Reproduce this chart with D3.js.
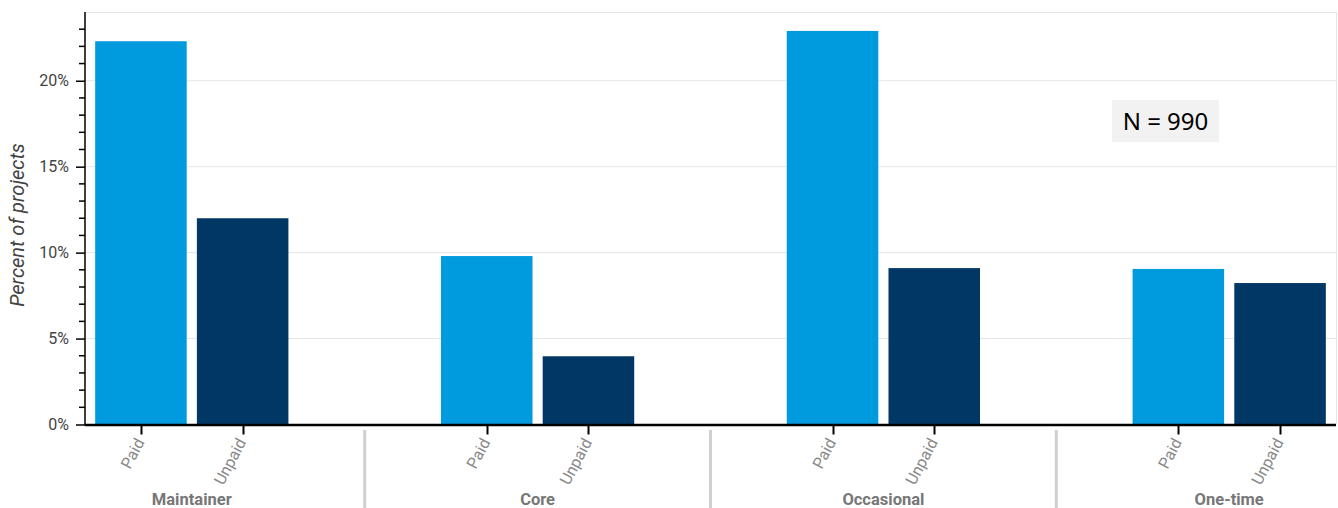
<!DOCTYPE html>
<html><head><meta charset="utf-8">
<script src="https://cdn.jsdelivr.net/npm/d3@7"></script>
<style>body{margin:0;background:#fff;} svg{display:block;}</style>
</head><body>
<svg id="c" width="1338" height="508"></svg>
<script>
const groups = ["Maintainer", "Core", "Occasional", "One-time"];
const subs = ["Paid", "Unpaid"];
const paidValues = [22.3, 9.8, 22.9, 9.05];
const unpaidValues = [12.0, 3.97, 9.1, 8.23];
const yTicks = [0, 5, 10, 15, 20];
const colors = {Paid: "#009ade", Unpaid: "#003764"};
const nLabel = "N = 990";

const svg = d3.select("#c");
const pLeft = 85, pRight = 1336, pTop = 12, pBottom = 424.5;

// nested categorical positions: units with group padding
const groupPad = 1.4, rangePad = 0.05;
const factors = [];
let u = rangePad;
groups.forEach((g, gi) => {
  if (gi > 0) u += groupPad;
  subs.forEach((s, si) => {
    const v = s === "Paid" ? paidValues[gi] : unpaidValues[gi];
    factors.push({g, s, gi, center: u + 0.5, value: v});
    u += 1;
  });
});
const total = u + rangePad;
const x = d3.scaleLinear().domain([0, total]).range([pLeft, pRight]);
const y = d3.scaleLinear().domain([0, 24]).range([pBottom, pTop]);

// grid
svg.append("g").selectAll("line").data(yTicks.filter(d => d > 0)).join("line")
  .attr("x1", pLeft).attr("x2", pRight).attr("y1", d => y(d)).attr("y2", d => y(d))
  .attr("stroke", "#e5e5e5").attr("stroke-width", 1);
svg.append("line").attr("x1", pLeft).attr("x2", pRight).attr("y1", pTop + 0.5).attr("y2", pTop + 0.5)
  .attr("stroke", "#e5e5e5");
svg.append("line").attr("x1", pRight + 0.5).attr("x2", pRight + 0.5).attr("y1", pTop).attr("y2", pBottom)
  .attr("stroke", "#e5e5e5");

// bars
const bw = 0.9;
svg.append("g").selectAll("rect").data(factors).join("rect")
  .attr("x", d => x(d.center - bw / 2)).attr("width", d => x(d.center + bw / 2) - x(d.center - bw / 2))
  .attr("y", d => y(d.value)).attr("height", d => y(0) - y(d.value))
  .attr("fill", d => colors[d.s]);

// y axis
const yAxis = d3.axisLeft(y).tickValues(yTicks).tickFormat(d => d + "%").tickSize(9).tickPadding(7);
const ya = svg.append("g").attr("transform", `translate(${pLeft},0)`).call(yAxis);
ya.select(".domain").remove();
ya.selectAll(".tick line").attr("stroke", "#000").attr("stroke-width", 1.5);
ya.selectAll("text").attr("font-family", "Roboto").attr("font-size", 16).attr("fill", "#444");
const minor = d3.range(0, 24, 1).filter(d => d % 5 !== 0);
svg.append("g").selectAll("line").data(minor).join("line")
  .attr("x1", pLeft - 6).attr("x2", pLeft).attr("y1", d => y(d)).attr("y2", d => y(d))
  .attr("stroke", "#000").attr("stroke-width", 1.5);
svg.append("line").attr("x1", pLeft).attr("x2", pLeft).attr("y1", pTop).attr("y2", pBottom + 1)
  .attr("stroke", "#000").attr("stroke-width", 1.5);

// x axis
svg.append("line").attr("x1", pLeft).attr("x2", pRight).attr("y1", pBottom + 0.5).attr("y2", pBottom + 0.5)
  .attr("stroke", "#000").attr("stroke-width", 2.5);
svg.append("g").selectAll("line").data(factors).join("line")
  .attr("x1", d => Math.round(x(d.center)) + 0.5).attr("x2", d => Math.round(x(d.center)) + 0.5)
  .attr("y1", pBottom).attr("y2", pBottom + 10)
  .attr("stroke", "#000").attr("stroke-width", 2);
svg.append("g").selectAll("text").data(factors).join("text")
  .attr("transform", d => `translate(${x(d.center) - 1},${pBottom + 15}) rotate(-62)`)
  .attr("text-anchor", "end").attr("dy", "0.35em")
  .attr("font-family", "Roboto").attr("font-size", 16).attr("fill", "#888")
  .text(d => d.s);

// group labels and separators
const gCenters = groups.map((g, gi) => {
  const fs = factors.filter(f => f.gi === gi);
  return {g, c: (fs[0].center + fs[fs.length - 1].center) / 2, first: fs[0].center, last: fs[fs.length - 1].center};
});
svg.append("g").selectAll("text").data(gCenters).join("text")
  .attr("x", d => x(d.c)).attr("y", 505).attr("text-anchor", "middle")
  .attr("font-family", "Roboto").attr("font-weight", "bold").attr("font-size", 16.5).attr("fill", "#777")
  .text(d => d.g);
svg.append("g").selectAll("line").data(gCenters.slice(1)).join("line")
  .attr("x1", (d, i) => x((gCenters[i].last + d.first) / 2)).attr("x2", (d, i) => x((gCenters[i].last + d.first) / 2))
  .attr("y1", 430).attr("y2", 508).attr("stroke", "#d0d0d0").attr("stroke-width", 3);

// y label
svg.append("text").attr("transform", `translate(24,225) rotate(-90)`)
  .attr("text-anchor", "middle").attr("font-family", "Roboto").attr("font-style", "italic")
  .attr("font-size", 20).attr("fill", "#444").text("Percent of projects");

// N label
svg.append("rect").attr("x", 1112).attr("y", 100).attr("width", 107).attr("height", 42).attr("fill", "#f2f2f2");
svg.append("text").attr("x", 1165.5).attr("y", 130).attr("text-anchor", "middle")
  .attr("font-family", "Noto Sans").attr("font-size", 24).attr("fill", "#000").text(nLabel);
</script>
</body></html>
